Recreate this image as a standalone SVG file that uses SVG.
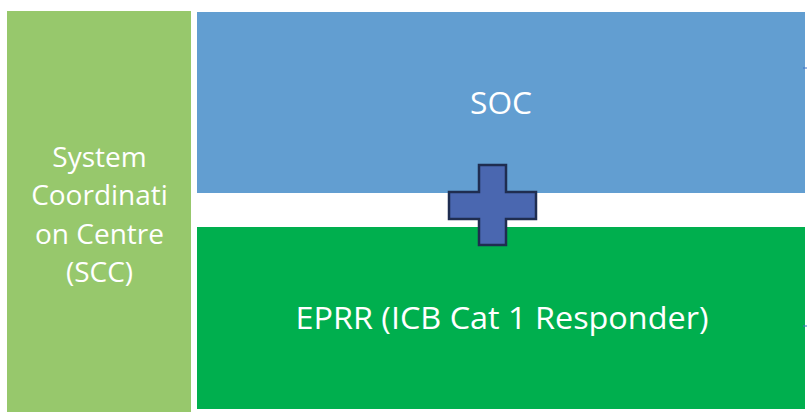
<svg xmlns="http://www.w3.org/2000/svg" width="807" height="412" viewBox="0 0 807 412">
<style>
text{font-family:"Open Sans","Noto Sans",sans-serif;fill:#fff;text-anchor:middle}
.l{font-size:28px}
.b{font-size:31px}
.tick{stroke:#4472C4;stroke-width:1}
</style>
<rect width="807" height="412" fill="#fff"/>
<g id="scc">
<rect x="7" y="11" width="184" height="401" fill="#97C86C"/>
<text class="l" x="99.5" y="167">System</text>
<text class="l" x="99.5" y="205">Coordinati</text>
<text class="l" x="99.5" y="244">on Centre</text>
<text class="l" x="99.5" y="282">(SCC)</text>
</g>
<g id="soc">
<rect x="197" y="12" width="608" height="181" fill="#629ED1"/>
<text class="b" x="501" y="114" textLength="62" lengthAdjust="spacingAndGlyphs">SOC</text>
</g>
<g id="eprr">
<rect x="197" y="227" width="608" height="182" fill="#00AF4E"/>
<text class="b" x="502" y="329" textLength="413" lengthAdjust="spacingAndGlyphs">EPRR (ICB Cat 1 Responder)</text>
</g>
<g id="connectors">
<line class="tick" x1="803" y1="68" x2="807" y2="68"/>
<line class="tick" x1="803" y1="326" x2="807" y2="326"/>
</g>
<g id="plus">
<path d="M479 165H506V192H536V219H506V245H479V219H449V192H479Z" fill="#4A67B0" stroke="#1F2D50" stroke-width="2.5" stroke-linejoin="miter"/>
</g>
</svg>
